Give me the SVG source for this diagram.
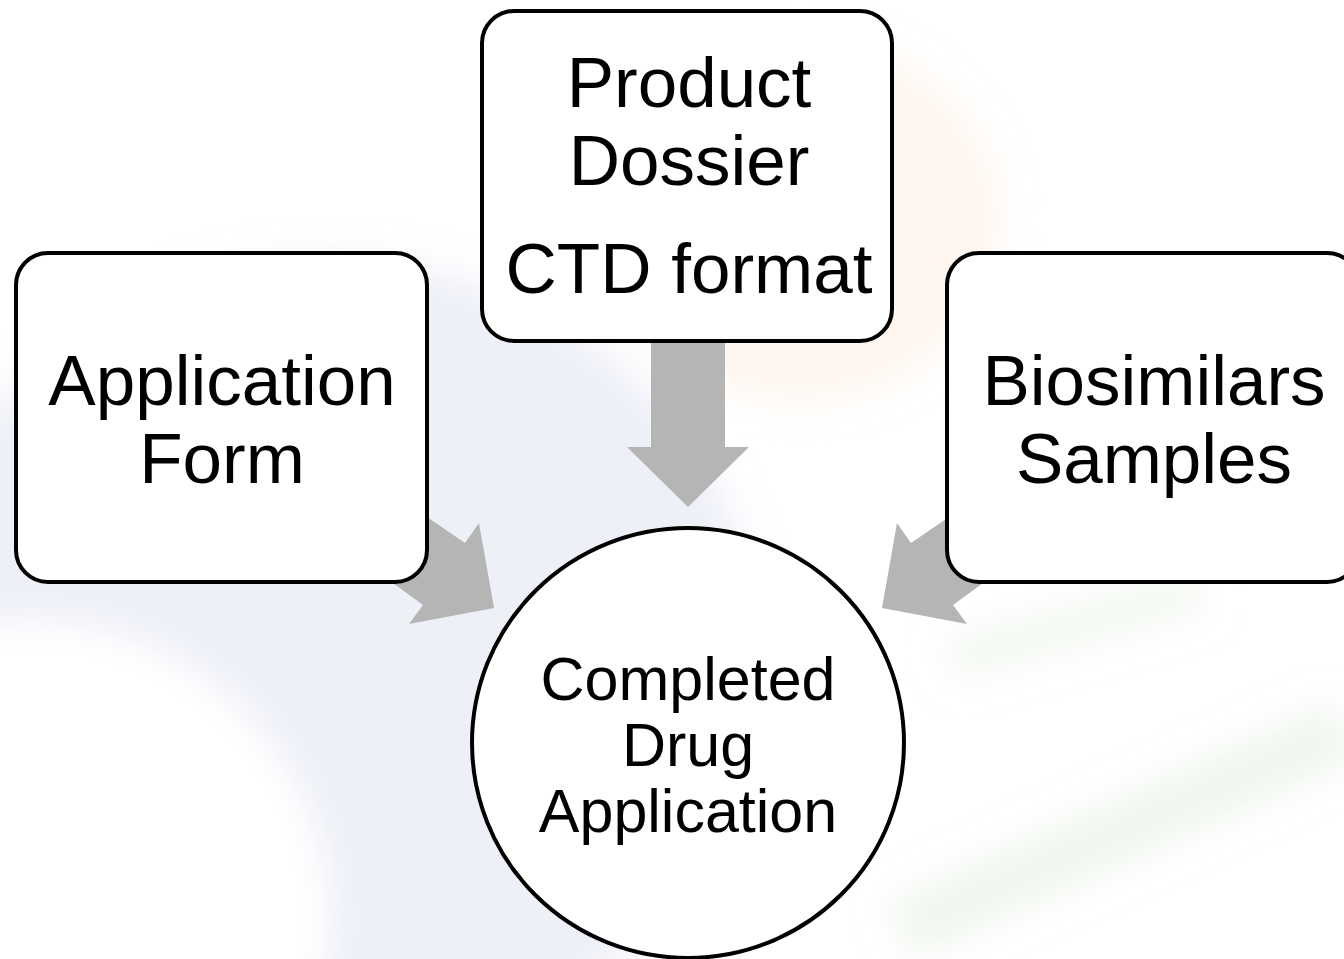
<svg xmlns="http://www.w3.org/2000/svg" width="1344" height="959" viewBox="0 0 1344 959">
<style>
.box{fill:#ffffff;stroke:#000000;stroke-width:4}
.arrow{fill:#b5b5b5;stroke:none}
.t{font-family:"Liberation Sans",Arial,sans-serif;fill:#000000;text-anchor:middle}
.big{font-size:71px}
.small{font-size:61px}
</style>
<defs>
<filter id="blur" x="-50%" y="-50%" width="200%" height="200%"><feGaussianBlur stdDeviation="18"/></filter>
</defs>
<rect width="1344" height="959" fill="#ffffff"/>
<g id="background" filter="url(#blur)">
<ellipse cx="330" cy="660" rx="430" ry="400" fill="#eef0f8"/>
<circle cx="30" cy="920" r="300" fill="#ffffff"/>
<ellipse cx="800" cy="220" rx="200" ry="180" fill="#fdf2e8" opacity="0.7"/>
<line x1="900" y1="930" x2="1344" y2="730" stroke="#f0f6ee" stroke-width="60"/>
<line x1="950" y1="660" x2="1200" y2="590" stroke="#f3f8f1" stroke-width="40"/>
</g>
<g id="connectors">
<polygon class="arrow" points="651,330 725,330 725,447 749,447 688,507 627,447 651,447"/>
<polygon class="arrow" points="360,471 465,543 479,523 494,608 409,624 423,605 345,548"/>
<polygon class="arrow" points="1016,471 911,543 897,523 882,608 967,624 953,605 1031,548"/>
</g>
<g id="node-product-dossier">
<rect class="box" x="482" y="11" width="410" height="330" rx="32"/>
<text class="t big" x="689" y="107">Product</text>
<text class="t big" x="689" y="185">Dossier</text>
<text class="t big" x="689" y="293">CTD format</text>
</g>
<g id="node-application-form">
<rect class="box" x="16" y="253" width="411" height="329" rx="32"/>
<text class="t big" x="222" y="405">Application</text>
<text class="t big" x="222" y="483">Form</text>
</g>
<g id="node-biosimilars-samples">
<rect class="box" x="947" y="253" width="412" height="329" rx="32"/>
<text class="t big" x="1154" y="405">Biosimilars</text>
<text class="t big" x="1154" y="483">Samples</text>
</g>
<g id="node-completed-drug-application">
<ellipse class="box" cx="688" cy="743" rx="216" ry="215"/>
<text class="t small" x="688" y="700">Completed</text>
<text class="t small" x="688" y="766">Drug</text>
<text class="t small" x="688" y="832">Application</text>
</g>
</svg>
